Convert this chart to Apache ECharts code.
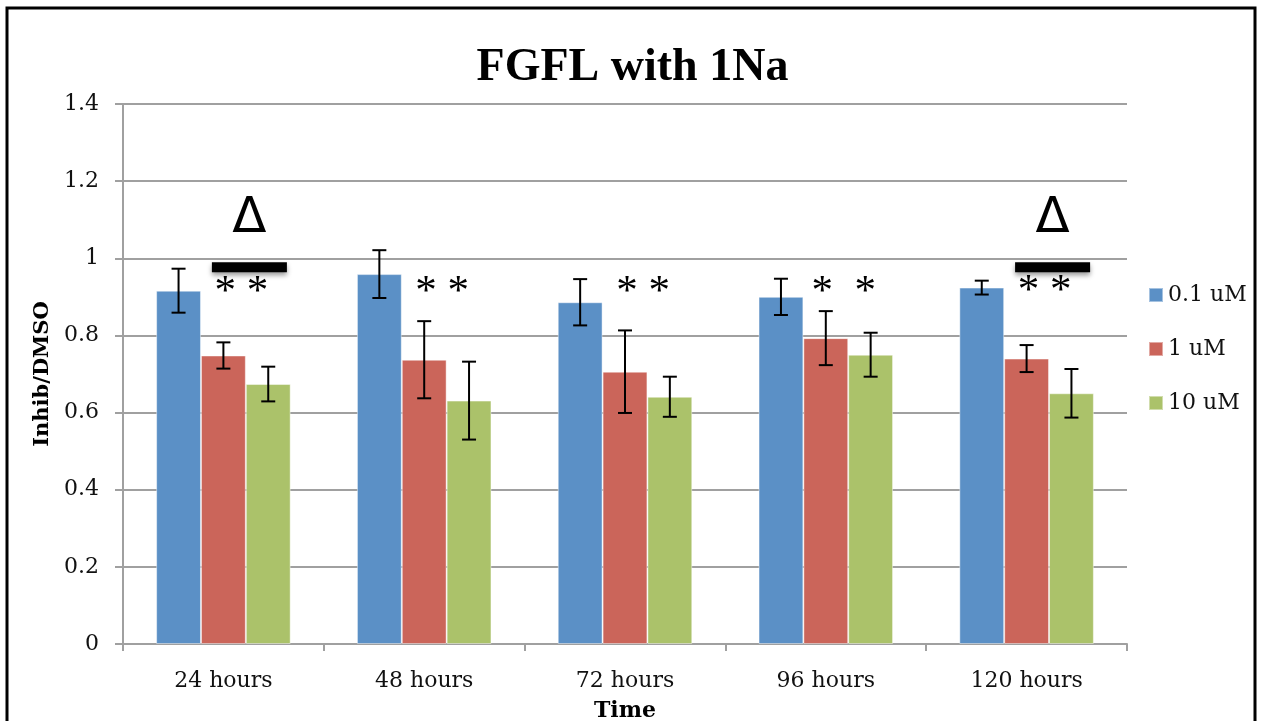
<!DOCTYPE html>
<html>
<head>
<meta charset="utf-8">
<script src="https://cdn.jsdelivr.net/npm/echarts@6/dist/echarts.min.js"></script>
<style>
html,body{margin:0;padding:0;background:#fff;}
#chart{width:1265px;height:721px;}
</style>
</head>
<body>
<div id="chart"></div>
<script>
// ---- data ----
const categories = ['24 hours', '48 hours', '72 hours', '96 hours', '120 hours'];
const seriesNames = ['0.1 uM', '1 uM', '10 uM'];
const valBlue  = [0.916, 0.959, 0.886, 0.900, 0.924];
const valRed   = [0.748, 0.737, 0.706, 0.793, 0.740];
const valGreen = [0.674, 0.631, 0.641, 0.750, 0.650];
const errBlue  = [0.057, 0.062, 0.060, 0.047, 0.018];
const errRed   = [0.034, 0.100, 0.107, 0.070, 0.035];
const errGreen = [0.045, 0.101, 0.052, 0.057, 0.063];
const starText  = ['* *', '* *', '* *', '*  *', '* *'];
const starLevel = [0.910, 0.910, 0.910, 0.910, 0.914];
const deltaCats = [0, 4];
const deltaLevel = 1.103;
const barLevel = 0.977;
const yTicks = [0, 0.2, 0.4, 0.6, 0.8, 1, 1.2, 1.4];

const colors = ['#5B90C6', '#CB655A', '#ABC26A'];
const values = [valBlue, valRed, valGreen];
const errors = [errBlue, errRed, errGreen];
const CAT_GAP = 0.33;
const serif = '"DejaVu Serif", "Liberation Serif", serif';

const chart = echarts.init(document.getElementById('chart'), null, {renderer: 'canvas'});

function errRender(k) {
  return function (params, api) {
    const ci = api.value(0), v = api.value(1), e = api.value(2);
    const band = api.size([1, 0])[0];
    const barW = band * (1 - CAT_GAP) / 3;
    const c = api.coord([ci, v]);
    const x = c[0] + (k - 1) * barW;
    const top = api.coord([ci, v + e])[1];
    const bot = api.coord([ci, v - e])[1];
    const cap = 7;
    const st = {stroke: '#000', lineWidth: 2};
    return {
      type: 'group',
      children: [
        {type: 'line', shape: {x1: x, y1: top, x2: x, y2: bot}, style: st},
        {type: 'line', shape: {x1: x - cap, y1: top, x2: x + cap, y2: top}, style: st},
        {type: 'line', shape: {x1: x - cap, y1: bot, x2: x + cap, y2: bot}, style: st}
      ]
    };
  };
}

function textRender(getText, font, dx) {
  return function (params, api) {
    const p = api.coord([api.value(0), api.value(1)]);
    return {
      type: 'text',
      x: p[0] + dx,
      y: p[1],
      style: {
        text: getText(params.dataIndex),
        font: font,
        fill: '#000',
        align: 'center',
        verticalAlign: 'middle'
      }
    };
  };
}

const series = [];
for (let k = 0; k < 3; k++) {
  series.push({
    name: seriesNames[k],
    type: 'bar',
    data: values[k],
    barGap: '0%',
    barCategoryGap: (CAT_GAP * 100) + '%',
    itemStyle: {color: colors[k], borderColor: 'rgba(255,255,255,0.45)', borderWidth: 1},
    emphasis: {disabled: true},
    z: 2
  });
}
for (let k = 0; k < 3; k++) {
  series.push({
    type: 'custom',
    renderItem: errRender(k),
    data: values[k].map((v, i) => [i, v, errors[k][i]]),
    z: 5,
    silent: true
  });
}
// asterisks
series.push({
  type: 'custom',
  data: starLevel.map((v, i) => [i, v]),
  renderItem: textRender(i => starText[i], '43px "Liberation Serif", serif', 18),
  silent: true,
  z: 6
});
// black bars
series.push({
  type: 'scatter',
  data: deltaCats.map(c => [c, barLevel]),
  symbol: 'rect',
  symbolSize: [75, 10],
  symbolOffset: [26, 0],
  itemStyle: {color: '#000', opacity: 1, shadowBlur: 5, shadowColor: 'rgba(0,0,0,0.4)', shadowOffsetY: 3},
  emphasis: {disabled: true},
  silent: true,
  z: 6
});
// deltas
series.push({
  type: 'custom',
  data: deltaCats.map(c => [c, deltaLevel]),
  renderItem: textRender(() => 'Δ', '50px "DejaVu Sans", sans-serif', 26),
  silent: true,
  z: 6
});

const option = {
  animation: false,
  backgroundColor: '#fff',
  color: colors,
  title: {
    text: 'FGFL with 1Na',
    left: 'center',
    top: 40,
    textStyle: {fontFamily: '"Liberation Serif", serif', fontWeight: 'bold', fontSize: 46, color: '#000'}
  },
  legend: {
    orient: 'vertical',
    left: 1148,
    top: 284,
    padding: 0,
    itemWidth: 14,
    itemHeight: 14,
    itemGap: 32,
    icon: 'rect',
    data: seriesNames,
    textStyle: {fontFamily: serif, fontSize: 22, color: '#111'}
  },
  grid: {left: 123, right: 138, top: 104, height: 540, outerBoundsMode: 'none', containLabel: false},
  xAxis: {
    type: 'category',
    data: categories,
    name: 'Time',
    nameLocation: 'middle',
    nameGap: 56,
    nameTextStyle: {fontFamily: serif, fontWeight: 'bold', fontSize: 22, color: '#000'},
    axisLine: {lineStyle: {color: '#A0A0A0', width: 2}},
    axisTick: {show: true, length: 7, lineStyle: {color: '#A0A0A0', width: 2}},
    axisLabel: {fontFamily: serif, fontSize: 22, color: '#111', margin: 26}
  },
  yAxis: {
    type: 'value',
    min: yTicks[0],
    max: yTicks[yTicks.length - 1],
    interval: 0.2,
    name: 'Inhib/DMSO',
    nameLocation: 'middle',
    nameGap: 64,
    nameTextStyle: {fontFamily: serif, fontWeight: 'bold', fontSize: 21, color: '#000'},
    axisLine: {show: true, lineStyle: {color: '#A0A0A0', width: 2}},
    axisTick: {show: true, length: 8, lineStyle: {color: '#A0A0A0', width: 2}},
    splitLine: {lineStyle: {color: '#A0A0A0', width: 2}},
    axisLabel: {
      fontFamily: serif, fontSize: 22, color: '#111', margin: 24,
      formatter: v => String(Math.round(v * 10) / 10)
    }
  },
  graphic: [{
    type: 'rect',
    shape: {x: 7, y: 8, width: 1248, height: 730},
    style: {fill: 'none', stroke: '#000', lineWidth: 3},
    silent: true,
    z: 100
  }],
  series: series
};
chart.setOption(option);
</script>
</body>
</html>
